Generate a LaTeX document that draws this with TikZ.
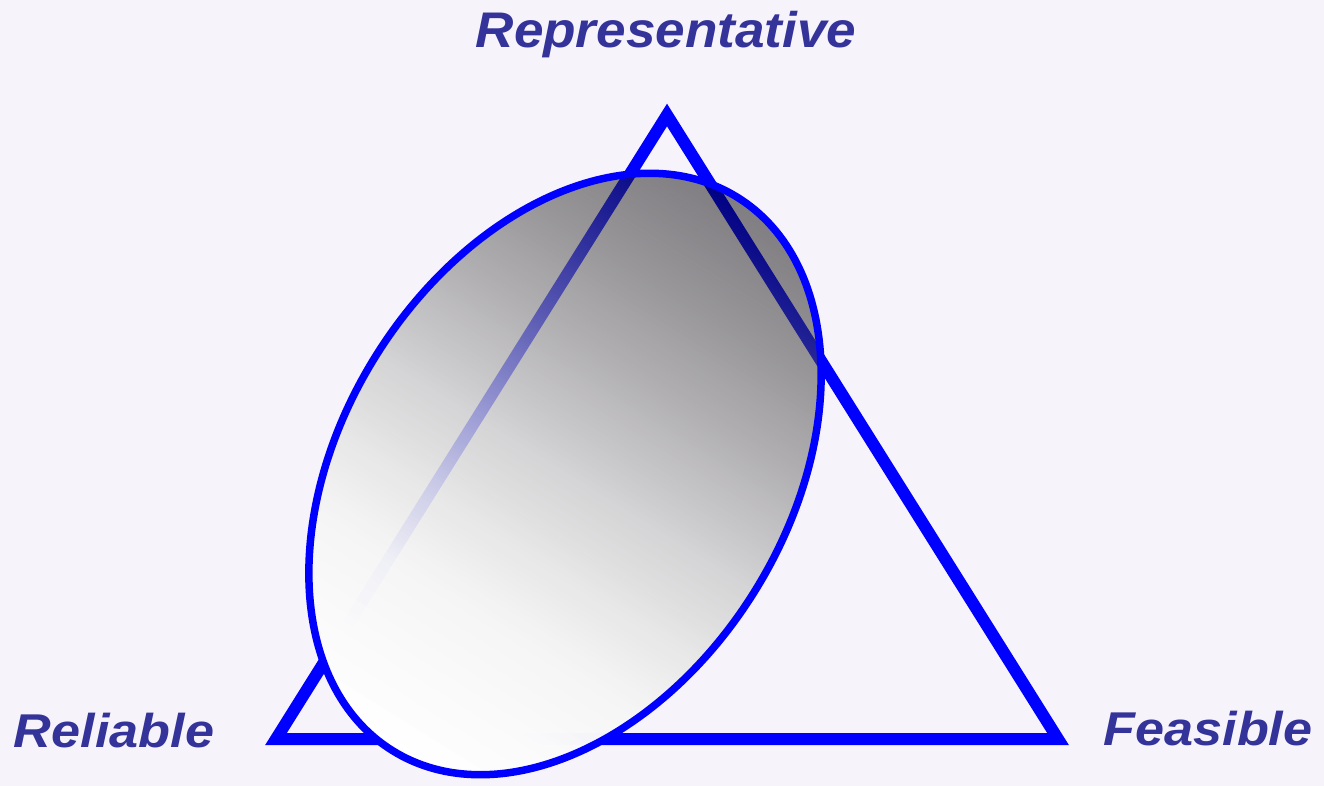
\documentclass[tikz,border=0pt]{standalone}
\usepackage{fontspec}
\setmainfont{Liberation Sans}
\usetikzlibrary{fadings}

\definecolor{bgcol}{RGB}{247,243,250}
\definecolor{namecol}{RGB}{51,51,153}
% grey ramp of the oval and its opacity ramp (white = opaque)
\pgfdeclarehorizontalshading{ovalshade}{100bp}{color(0bp)=(white); color(25bp)=(white); color(31.25bp)=(white!98.5!black); color(37.5bp)=(white!96.5!black); color(43.75bp)=(white!90!black); color(50bp)=(white!80!black); color(56.25bp)=(white!64!black); color(62.5bp)=(white!45!black); color(68.75bp)=(white!23!black); color(75bp)=(black); color(100bp)=(black)}
\pgfdeclarehorizontalshading{ovalfadeshade}{100bp}{color(0bp)=(white); color(25bp)=(white); color(31.25bp)=(white!99.5!black); color(37.5bp)=(white!97!black); color(43.75bp)=(white!89!black); color(50bp)=(white!78!black); color(56.25bp)=(white!69!black); color(62.5bp)=(white!61!black); color(68.75bp)=(white!54!black); color(75bp)=(white!48!black); color(100bp)=(white!48!black)}
\pgfdeclarefading{ovalfade}{\pgfuseshading{ovalfadeshade}}

\begin{document}
\begin{tikzpicture}[x=0.02cm, y=-0.02cm]

    \tikzset{
      cornername/.style={
        font=\fontsize{27}{30}\selectfont\bfseries\itshape,
        text=namecol,
        inner sep=0pt,
        anchor=base,
      },
      edge/.style={
        draw=blue,
        line width=0.24cm,
        miter limit=10,
      },
    }
    \useasboundingbox (0,0) rectangle (1324,786);
    \fill[bgcol] (0,0) rectangle (1324,786);

    \coordinate (top) at (667,115);
    \coordinate (left) at (276,739);
    \coordinate (right) at (1058,739);
    \draw[edge] (top)--(left)--(right)--cycle;

    % shaded oval on top of the triangle
    \begin{scope}[transform canvas={shift={(565,474)}, rotate=58}]
	\shade[shading=ovalshade, path fading=ovalfade] (0,0) ellipse [x radius=326, y radius=223];
	\draw[blue, line width=0.15cm] (0,0) ellipse [x radius=326, y radius=223];
    \end{scope}

    \node[cornername, font=\fontsize{28.5}{30}\selectfont\bfseries\itshape] (rep) at (666,48) {\scalebox{1.06}[1]{Representative}};
    \node[cornername] (rel) at (114,747) {\scalebox{1.1}[1]{Reliable}};
    \node[cornername] (fea) at (1208,745) {\scalebox{1.1}[1]{Feasible}};

\end{tikzpicture}
\end{document}
